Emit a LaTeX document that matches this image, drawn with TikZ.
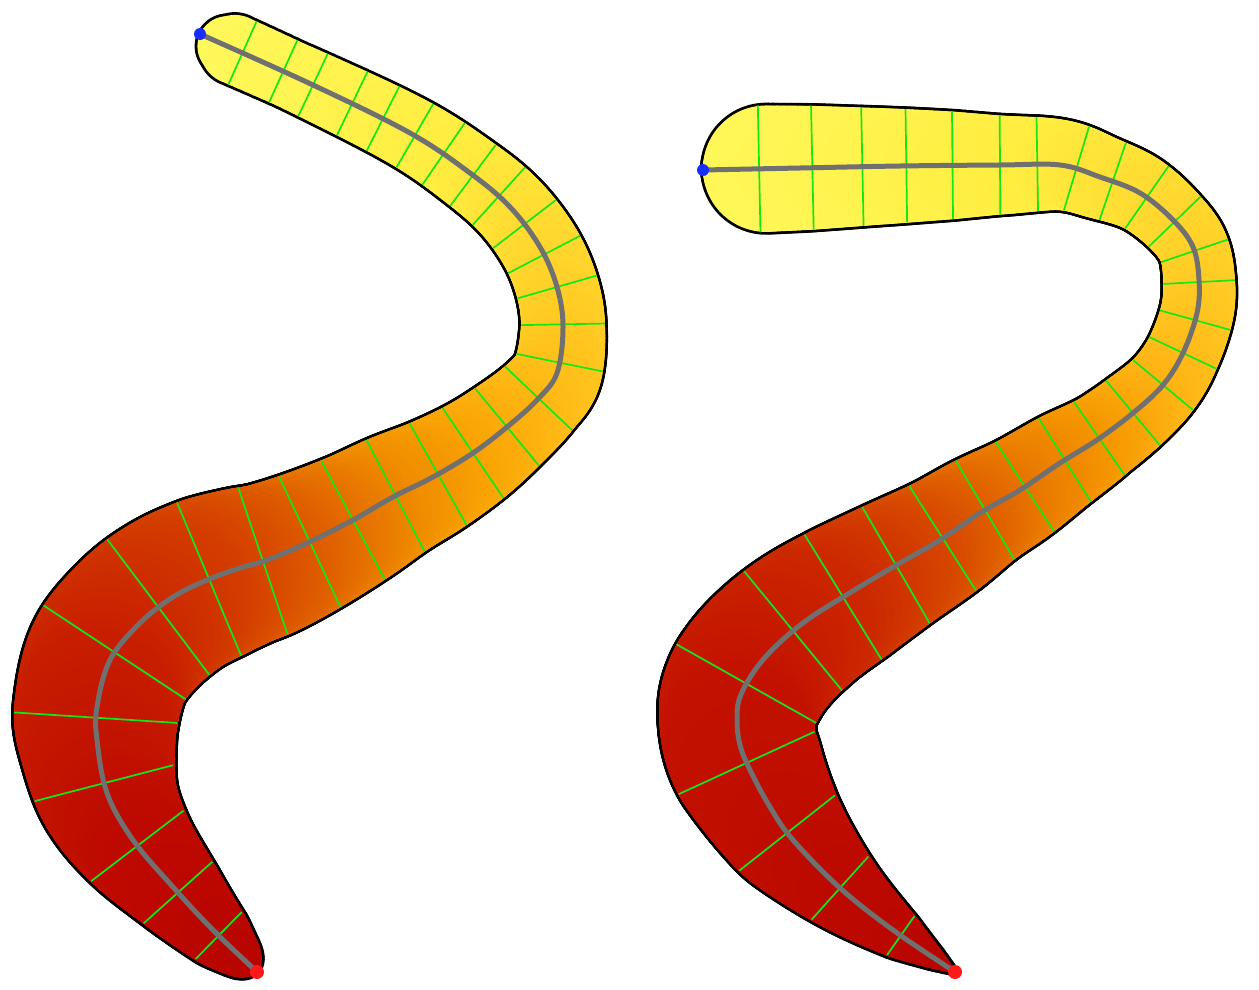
\documentclass[tikz,border=0pt]{standalone}

\definecolor{spinegray}{RGB}{112,112,112}
\definecolor{crossgreen}{RGB}{20,232,20}
\definecolor{startblue}{RGB}{25,45,255}
\definecolor{endred}{RGB}{255,25,25}

\tikzset{
  spine/.style={draw=spinegray, line width=5pt, line cap=round, line join=round},
  crossline/.style={draw=crossgreen, line width=1.7pt},
}

% piecewise linear look-up: #1 position, #2 knots s/v
\newcommand\wormlookup[2]{%
  \gdef\lkS{-1}\gdef\lkV{0}\gdef\lkval{0}%
  \foreach \ks/\kv in #2 {%
    \ifdim#1pt>\ks pt\else\ifdim#1pt<\lkS pt\else
      \pgfmathsetmacro\tmpv{\lkV+(\kv-(\lkV))*(#1-(\lkS))/(\ks-(\lkS))}%
      \xdef\lkval{\tmpv}\fi\fi
    \xdef\lkS{\ks}\xdef\lkV{\kv}}}
% same for the fill colour: knots s/r/g/b
\newcommand\colorlookup[1]{%
  \gdef\lkS{-1}\gdef\lkR{0}\gdef\lkG{0}\gdef\lkB{0}%
  \foreach \ks/\kr/\kg/\kb in \cknots {%
    \ifdim#1pt>\ks pt\else\ifdim#1pt<\lkS pt\else
      \pgfmathsetmacro\tmpf{(#1-(\lkS))/(\ks-(\lkS))}%
      \pgfmathtruncatemacro\tmpr{\lkR+(\kr-(\lkR))*\tmpf}%
      \pgfmathtruncatemacro\tmpg{\lkG+(\kg-(\lkG))*\tmpf}%
      \pgfmathtruncatemacro\tmpb{\lkB+(\kb-(\lkB))*\tmpf}%
      \xdef\cR{\tmpr}\xdef\cG{\tmpg}\xdef\cB{\tmpb}\fi\fi
    \xdef\lkS{\ks}\xdef\lkR{\kr}\xdef\lkG{\kg}\xdef\lkB{\kb}}}

% samples along the spine (Catmull-Rom): #1 xs, #2 ys, #3 number of points
\newcommand\buildworm[3]{%
  \pgfmathtruncatemacro\nseg{#3-2}%
  \pgfmathsetmacro\fx{#1[0]}\pgfmathsetmacro\fy{#2[0]}%
  \xdef\wsamples{\fx/\fy/0/0/0}%
  \xdef\wline{(\fx,\fy)}%
  \xdef\sprev{0}\xdef\xprev{\fx}\xdef\yprev{\fy}%
  \foreach \seg in {0,...,\nseg}{%
    \pgfmathtruncatemacro\iz{max(\seg-1,0)}%
    \pgfmathtruncatemacro\ib{\seg+1}%
    \pgfmathtruncatemacro\ic{min(\seg+2,#3-1)}%
    \pgfmathsetmacro\xz{#1[\iz]}\pgfmathsetmacro\yz{#2[\iz]}%
    \pgfmathsetmacro\xa{#1[\seg]}\pgfmathsetmacro\ya{#2[\seg]}%
    \pgfmathsetmacro\xb{#1[\ib]}\pgfmathsetmacro\yb{#2[\ib]}%
    \pgfmathsetmacro\xc{#1[\ic]}\pgfmathsetmacro\yc{#2[\ic]}%
    \pgfmathsetmacro\tax{(\xb-(\xz))/2}\pgfmathsetmacro\tay{(\yb-(\yz))/2}%
    \pgfmathsetmacro\tbx{(\xc-(\xa))/2}\pgfmathsetmacro\tby{(\yc-(\ya))/2}%
    \foreach \sub in {1,...,16}{%
      \pgfmathsetmacro\uu{\sub/16}%
      \pgfmathsetmacro\haa{2*\uu^3-3*\uu^2+1}%
      \pgfmathsetmacro\hba{\uu^3-2*\uu^2+\uu}%
      \pgfmathsetmacro\hab{3*\uu^2-2*\uu^3}%
      \pgfmathsetmacro\hbb{\uu^3-\uu^2}%
      \pgfmathsetmacro\gaa{6*\uu^2-6*\uu}%
      \pgfmathsetmacro\gba{3*\uu^2-4*\uu+1}%
      \pgfmathsetmacro\gab{6*\uu-6*\uu^2}%
      \pgfmathsetmacro\gbb{3*\uu^2-2*\uu}%
      \pgfmathsetmacro\qx{(\haa)*(\xa)+(\hba)*(\tax)+(\hab)*(\xb)+(\hbb)*(\tbx)}%
      \pgfmathsetmacro\qy{(\haa)*(\ya)+(\hba)*(\tay)+(\hab)*(\yb)+(\hbb)*(\tby)}%
      \pgfmathsetmacro\dqx{(\gaa)*(\xa)+(\gba)*(\tax)+(\gab)*(\xb)+(\gbb)*(\tbx)}%
      \pgfmathsetmacro\dqy{(\gaa)*(\ya)+(\gba)*(\tay)+(\gab)*(\yb)+(\gbb)*(\tby)}%
      \pgfmathsetmacro\dl{max(veclen(\dqx,\dqy),0.001)}%
      \pgfmathsetmacro\qnx{-(\dqy)/\dl}%
      \pgfmathsetmacro\qny{(\dqx)/\dl}%
      \pgfmathsetmacro\qs{\sprev+veclen(\qx-(\xprev),\qy-(\yprev))}%
      \xdef\wsamples{\wsamples,\qx/\qy/\qs/\qnx/\qny}%
      \xdef\wline{\wline (\qx,\qy)}%
      \xdef\sprev{\qs}\xdef\xprev{\qx}\xdef\yprev{\qy}%
    }}%
  \xdef\wormtot{\sprev}%
  \pgfmathsetmacro\wscale{\wormlen/\wormtot}\global\let\wscale\wscale}

% half width at spine distance #1
\newcommand\wormradius[1]{%
  \pgfmathsetmacro\ws{#1*\wscale}%
  \ifdim\ws pt>\wormlen pt\edef\ws{\wormlen}\fi
  \wormlookup{\ws}{\wknots}%
  \pgfmathsetmacro\wr{max(0.3,min(\lkval,\ws,\wormlen-(\ws)))}}
\def\gettarget#1,#2\relax{\def\curtarget{#1}\def\resttargets{#2}}

% outline, body and cross lines of the current worm
\newcommand\wormoutline{%
  \foreach \px/\py/\ps/\pnx/\pny in \wsamples {%
    \wormradius{\ps}\pgfmathsetmacro\wrb{\wr+2.8}%
    \fill[black] (\px,\py) circle[radius=\wrb];}}
\newcommand\wormbody{%
  \foreach \px/\py/\ps/\pnx/\pny in \wsamples {%
    \wormradius{\ps}\colorlookup{\ws}\definecolor{wormfill}{RGB}{\cR,\cG,\cB}%
    \fill[wormfill] (\px,\py) circle[radius=\wr];}}
\newcommand\wormcross{%
  \foreach \px/\py/\ps/\pnx/\pny in \wsamples {%
    \wormradius{\ps}%
    \expandafter\gettarget\wtargets\relax
    \ifdim\ws pt<\curtarget pt\else
      \xdef\wtargets{\resttargets}%
      \pgfmathsetmacro\wc{min(\ws,\capR)}%
      \pgfmathsetmacro\hl{\ws<\capR ? min(\lkval,sqrt(\wc*(2*\capR-\wc))) : \lkval}%
      \pgfmathsetmacro\crax{\px+\hl*(\pnx)}\pgfmathsetmacro\cray{\py+\hl*(\pny)}%
      \pgfmathsetmacro\crbx{\px-\hl*(\pnx)}\pgfmathsetmacro\crby{\py-\hl*(\pny)}%
      \draw[crossline] (\crax,\cray) -- (\crbx,\crby);
    \fi}}
\newcommand\wormspine{%
  \edef\spinecmd{\noexpand\draw[spine] plot coordinates {\wline};}\spinecmd}

\begin{document}
\begin{tikzpicture}[x=1pt, y=1pt]
  \useasboundingbox (0,0) rectangle (1259,-989);
  \coordinate (lstart) at (200,-34);
  \coordinate (lend) at (257,-972);
  \coordinate (rstart) at (703,-170);
  \coordinate (rend) at (955,-972);

  % left worm
  \def\wormlen{1448}\def\capR{35}
  \def\wknots{0/35, 100/34, 304/38, 490/42, 567/46, 611/50, 694/58, 789/67, 890/77, 947/83, 1010/85, 1068/85, 1136/82, 1200/72, 1274/58, 1336/46, 1392/34, 1420/24, 1448/10}
  \def\cknots{0/255/250/95, 300/255/238/65, 490/255/208/40, 611/255/185/20, 700/250/165/5, 790/240/140/0, 890/225/100/0, 1000/212/62/0, 1136/200/30/0, 1300/190/10/0, 1448/185/5/0}
  \xdef\wtargets{41,84,123,160,197,232,270,304,340,376,414,449,487,524,567,611,653,694,740,789,837,890,947,1005,1068,1136,1200,1274,1336,1392,9999,9999}
  \buildworm{{200,313,410,470,510,540,557,563,557,537,507,473,433,393,353,307,267,240,207,173,140,110,97,97,107,133,173,213,257}}{{-34,-85,-133,-173,-207,-247,-287,-327,-373,-400,-427,-453,-477,-497,-520,-543,-560,-568,-580,-597,-623,-660,-707,-740,-793,-840,-887,-930,-972}}{29}
  \wormoutline
  \wormbody
  \wormcross
  \wormspine

  % right worm
  \def\wormlen{1565}\def\capR{65}
  \def\wknots{0/65, 107/62, 200/57, 247/54, 290/50, 334/47, 371/44, 409/41, 449/38, 485/36, 521/35, 560/36, 630/37, 666/39, 706/42, 747/44, 789/49, 836/53, 883/57, 935/62, 989/67, 1048/73, 1111/77, 1182/80, 1264/75, 1345/61, 1420/43, 1496/25, 1540/11, 1565/2}
  \def\cknots{0/255/250/95, 350/255/238/65, 560/255/208/40, 700/255/180/20, 790/246/152/0, 880/234/122/0, 990/216/75/0, 1100/205/42/0, 1250/195/18/0, 1565/185/5/0}
  \xdef\wtargets{56,107,154,201,247,292,334,372,410,449,486,521,553,592,627,664,706,747,789,836,883,935,989,1048,1111,1182,1264,1345,1420,1495,9999,9999}
  \buildworm{{703,800,900,1000,1060,1100,1140,1173,1193,1199,1197,1183,1163,1133,1097,1060,1020,980,940,893,843,807,777,755,740,737,740,750,770,793,840,893,955}}{{-170,-168,-166,-165,-165,-177,-193,-220,-247,-280,-313,-353,-385,-413,-440,-463,-490,-513,-540,-567,-597,-620,-645,-670,-697,-720,-745,-770,-807,-840,-888,-930,-972}}{33}
  \wormoutline
  \wormbody
  \wormcross
  \wormspine

  % end points
  \fill[startblue] (lstart) circle[radius=6];
  \fill[endred] (lend) circle[radius=7];
  \fill[startblue] (rstart) circle[radius=6];
  \fill[endred] (rend) circle[radius=7];
\end{tikzpicture}
\end{document}
